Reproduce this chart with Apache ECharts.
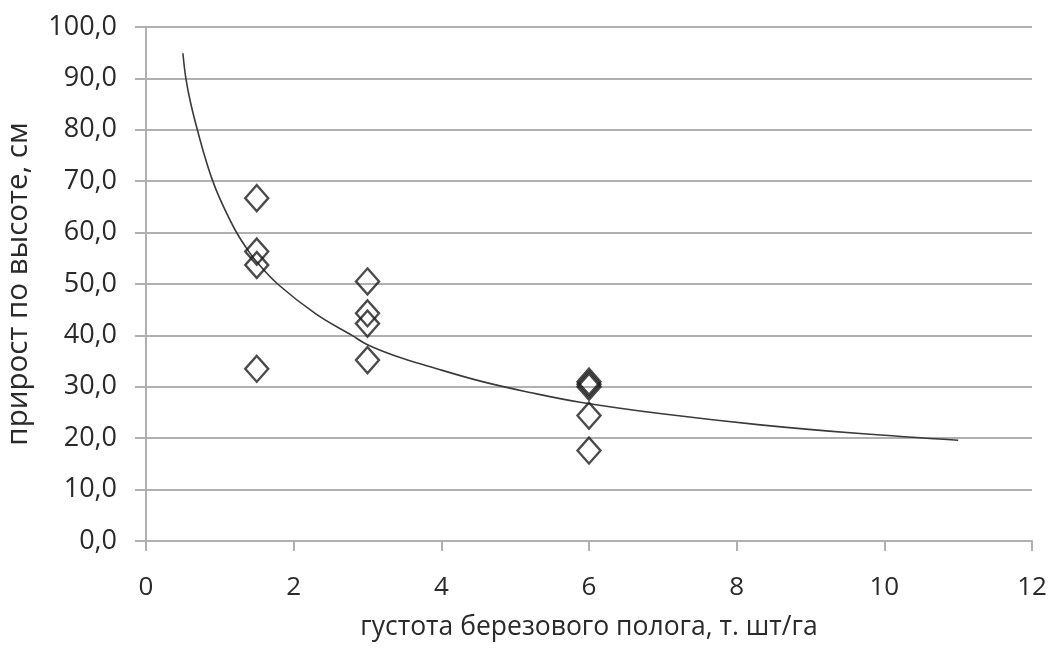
<!DOCTYPE html>
<html>
<head>
<meta charset="utf-8">
<script src="https://cdn.jsdelivr.net/npm/echarts@6/dist/echarts.min.js"></script>
<style>
html,body{margin:0;padding:0;background:#fff;}
#chart{width:1050px;height:655px;}
</style>
</head>
<body>
<div id="chart"></div>
<script>
// Observed points: density (thousand per ha) and height increment (cm)
const pointX = [1.5, 1.5, 1.5, 1.5, 3, 3, 3, 3, 6, 6, 6, 6, 6];
const pointY = [66.7, 56.3, 53.7, 33.5, 50.5, 44.3, 42.3, 35.2, 31.0, 30.5, 30.0, 24.4, 17.6];

// Trend curve
const trendX = [0.5, 0.54, 0.6, 0.69, 0.78, 0.89, 1.0, 1.2, 1.35, 1.5, 1.79, 2.3, 2.79, 3.0, 3.4, 3.85, 4.53, 5.2, 5.88, 6.96, 8.32, 9.67, 11.0];
const trendY = [94.9, 90.0, 85.5, 80.3, 75.6, 70.6, 66.6, 60.7, 57.2, 54.3, 49.9, 44.2, 40.0, 38.2, 35.9, 33.9, 31.1, 28.9, 27.0, 24.8, 22.6, 20.9, 19.6];

const xTicks = [0, 2, 4, 6, 8, 10, 12];
const yTicks = [0, 10, 20, 30, 40, 50, 60, 70, 80, 90, 100];

const xName = 'густота березового полога, т. шт/га';
const yName = 'прирост по высоте, см';

const font = '"Open Sans", "DejaVu Sans", sans-serif';
const chart = echarts.init(document.getElementById('chart'), null, {renderer: 'canvas'});

chart.setOption({
  animation: false,
  backgroundColor: '#ffffff',
  grid: {left: 146, right: 18, top: 27, bottom: 114, containLabel: false, outerBoundsMode: 'none'},
  xAxis: {
    type: 'value',
    min: xTicks[0], max: xTicks[xTicks.length - 1], interval: 2,
    name: xName,
    nameLocation: 'middle',
    nameGap: 73,
    nameTextStyle: {fontFamily: font, fontSize: 26.5, color: '#2a2a2a'},
    axisLine: {show: true, lineStyle: {color: '#b0b0b0', width: 2}},
    axisTick: {show: true, length: 10, lineStyle: {color: '#b0b0b0', width: 2}},
    axisLabel: {fontFamily: font, fontSize: 26, color: '#2a2a2a', margin: 34},
    splitLine: {show: false}
  },
  yAxis: {
    type: 'value',
    min: yTicks[0], max: yTicks[yTicks.length - 1], interval: 10,
    name: yName,
    nameLocation: 'middle',
    nameGap: 112,
    nameTextStyle: {fontFamily: font, fontSize: 29.5, color: '#2a2a2a'},
    axisLine: {show: true, lineStyle: {color: '#b0b0b0', width: 2}},
    axisTick: {show: true, length: 11, lineStyle: {color: '#b0b0b0', width: 2}},
    axisLabel: {
      fontFamily: font, fontSize: 27, color: '#2a2a2a', margin: 29,
      formatter: v => v.toFixed(1).replace('.', ',')
    },
    splitLine: {show: true, lineStyle: {color: '#b0b0b0', width: 2}}
  },
  series: [
    {
      type: 'line',
      data: trendX.map((x, i) => [x, trendY[i]]),
      smooth: 0.4,
      showSymbol: false,
      lineStyle: {color: '#3a3a3a', width: 1.6},
      z: 2
    },
    {
      type: 'scatter',
      data: pointX.map((x, i) => [x, pointY[i]]),
      symbol: 'diamond',
      symbolSize: [23, 26],
      itemStyle: {color: 'rgba(0,0,0,0)', borderColor: '#1e1e1e', borderWidth: 2.4},
      z: 3
    }
  ]
});
</script>
</body>
</html>
